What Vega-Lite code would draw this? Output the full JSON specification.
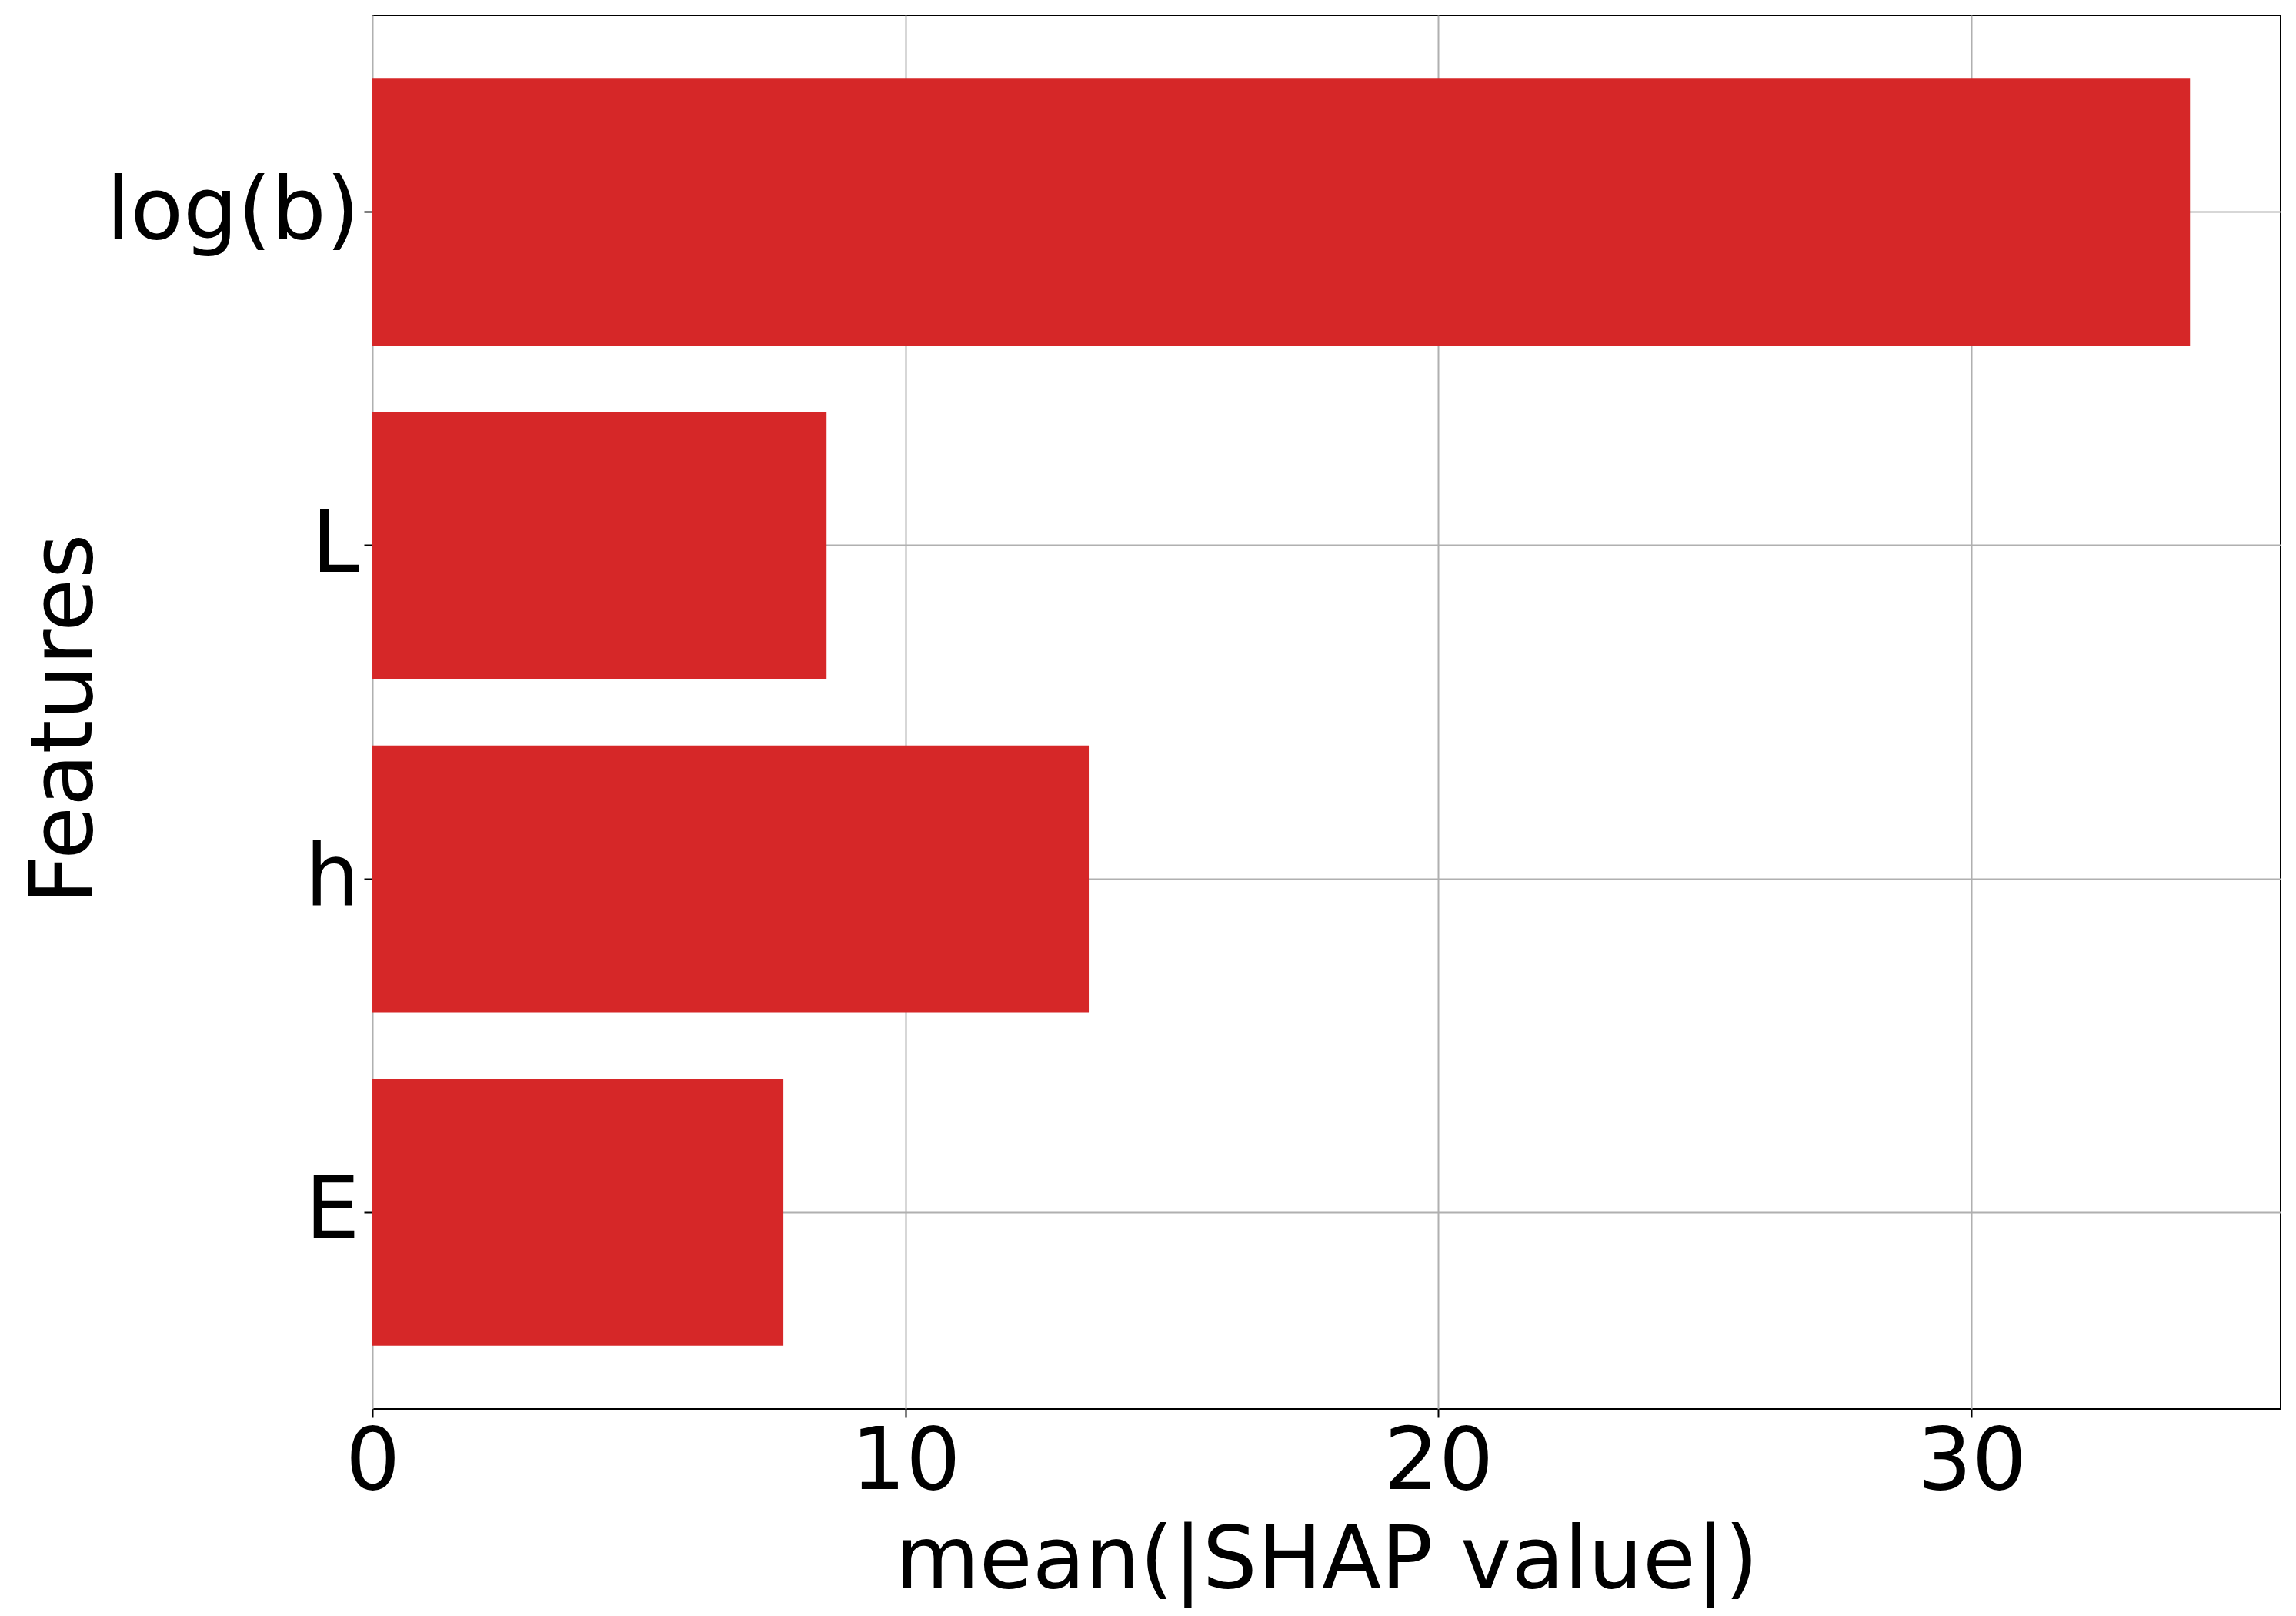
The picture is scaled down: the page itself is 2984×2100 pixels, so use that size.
{
  "$schema": "https://vega.github.io/schema/vega-lite/v6.json",
  "autosize": {"type": "none"},
  "padding": {"left": 484, "top": 20, "right": 20, "bottom": 269},
  "width": 2480,
  "height": 1811,
  "background": "white",
  "config": {
    "view": {"stroke": "black", "strokeWidth": 2},
    "font": "DejaVu Sans",
    "axis": {
      "labelFont": "DejaVu Sans",
      "titleFont": "DejaVu Sans",
      "labelFontSize": 112,
      "titleFontSize": 112,
      "titleFontWeight": "normal",
      "labelColor": "black",
      "titleColor": "black",
      "labelLimit": 0,
      "titleLimit": 0,
      "domain": false,
      "tickColor": "black",
      "tickWidth": 2,
      "tickSize": 11,
      "gridColor": "#b0b0b0",
      "gridWidth": 2,
      "gridOpacity": 1,
      "zindex": 1
    }
  },
  "data": {
    "values": [
      {"feature": "log(b)", "value": 34.10},
      {"feature": "L", "value": 8.52},
      {"feature": "h", "value": 13.44},
      {"feature": "E", "value": 7.71}
    ]
  },
  "mark": {"type": "bar", "color": "#d62728"},
  "encoding": {
    "y": {
      "field": "feature",
      "type": "nominal",
      "sort": ["log(b)", "L", "h", "E"],
      "scale": {"paddingInner": 0.2, "paddingOuter": 0.19},
      "axis": {
        "title": "Features",
        "labelPadding": 6,
        "titlePadding": 142,
        "titleY": 914,
        "bandPosition": 0.5,
        "grid": true
      }
    },
    "x": {
      "field": "value",
      "type": "quantitative",
      "scale": {"domain": [0, 35.8], "nice": false, "zero": true},
      "axis": {
        "title": "mean(|SHAP value|)",
        "values": [0, 10, 20, 30],
        "labelPadding": 4,
        "titlePadding": 18,
        "grid": true,
        "labelFlush": false,
        "labelOverlap": false
      }
    }
  }
}
